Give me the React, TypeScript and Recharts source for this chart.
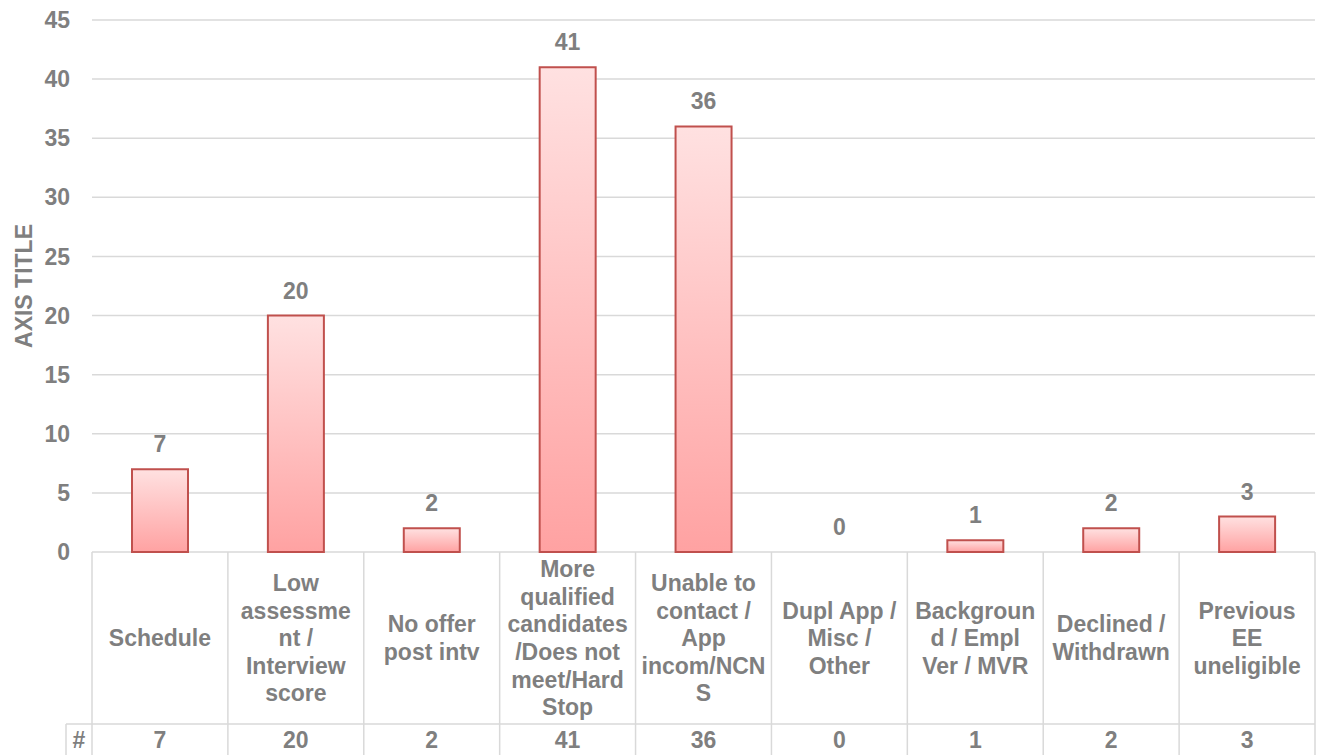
import { ComposedChart, Bar, Line, XAxis, YAxis, CartesianGrid, LabelList } from 'recharts';

// categories, wrapped the way the chart's data table wraps them
const categories = [
  'Schedule',
  'Low assessment / Interview score',
  'No offer post intv',
  'More qualified candidates /Does not meet/Hard Stop',
  'Unable to contact / App incom/NCNS',
  'Dupl App / Misc / Other',
  'Background / Empl Ver / MVR',
  'Declined / Withdrawn',
  'Previous EE uneligible',
];
const categoryLines = [
  ['Schedule'],
  ['Low', 'assessme', 'nt /', 'Interview', 'score'],
  ['No offer', 'post intv'],
  ['More', 'qualified', 'candidates', '/Does not', 'meet/Hard', 'Stop'],
  ['Unable to', 'contact /', 'App', 'incom/NCN', 'S'],
  ['Dupl App /', 'Misc /', 'Other'],
  ['Backgroun', 'd / Empl', 'Ver / MVR'],
  ['Declined /', 'Withdrawn'],
  ['Previous', 'EE', 'uneligible'],
];
const counts = [7, 20, 2, 41, 36, 0, 1, 2, 3];
const yTicks = [0, 5, 10, 15, 20, 25, 30, 35, 40, 45];
const seriesName = '#';

const data = categories.map((name, i) => ({ name, value: counts[i] }));

const W = 1317;
const H = 755;
const LEFT = 92;
const RIGHT_M = 2;
const TABLE_H = 203;
const CAT_ROW_H = 172;
const BAND = (W - LEFT - RIGHT_M) / categories.length;
const GREY = '#7f7f7f';
const LINE = '#d9d9d9';
const FONT = '"Liberation Sans", Arial, sans-serif';

// draws one column of the data table under the plot
const TableTick = ({ x, y, index }: any) => {
  const lines = categoryLines[index] || [];
  const lh = 27.6;
  const mid = y + CAT_ROW_H / 2;
  const firstBase = mid - ((lines.length - 1) * lh) / 2 + 8.2;
  const left = x - BAND / 2;
  const right = x + BAND / 2;
  const isLast = index === categories.length - 1;
  return (
    <g>
      <line x1={left} y1={y} x2={left} y2={y + TABLE_H} stroke={LINE} strokeWidth={1.5} />
      {isLast && <line x1={right} y1={y} x2={right} y2={y + TABLE_H} stroke={LINE} strokeWidth={1.5} />}
      <line x1={left} y1={y + CAT_ROW_H} x2={right} y2={y + CAT_ROW_H} stroke={LINE} strokeWidth={1.5} />
      {index === 0 && (
        <g>
          <line x1={left - 26} y1={y + CAT_ROW_H} x2={left} y2={y + CAT_ROW_H} stroke={LINE} strokeWidth={1.5} />
          <line x1={left - 26} y1={y + CAT_ROW_H} x2={left - 26} y2={y + TABLE_H} stroke={LINE} strokeWidth={1.5} />
          <text x={left - 13} y={y + CAT_ROW_H + 24} textAnchor="middle" fill={GREY} fontSize={23} fontWeight="bold" fontFamily={FONT}>
            {seriesName}
          </text>
        </g>
      )}
      <text textAnchor="middle" fill={GREY} fontSize={23} fontWeight="bold" fontFamily={FONT}>
        {lines.map((t, i) => (
          <tspan key={i} x={x} y={firstBase + i * lh}>{t}</tspan>
        ))}
      </text>
      <text x={x} y={y + CAT_ROW_H + 24} textAnchor="middle" fill={GREY} fontSize={23} fontWeight="bold" fontFamily={FONT}>
        {counts[index]}
      </text>
    </g>
  );
};

const AxisTitle = ({ viewBox }: any) => {
  const cx = 24;
  const cy = viewBox.y + viewBox.height / 2;
  return (
    <text x={cx} y={cy} transform={`rotate(-90, ${cx}, ${cy})`} textAnchor="middle" dominantBaseline="central"
      fill={GREY} fontSize={23} fontWeight="bold" fontFamily={FONT}>
      AXIS TITLE
    </text>
  );
};

export default function App() {
  return (
    <div style={{ position: 'absolute', left: 0, top: 0, width: W, height: H, background: '#fff', fontFamily: FONT }}>
      <ComposedChart width={W} height={H} data={data} margin={{ top: 20, right: RIGHT_M, bottom: 0, left: 0 }}>
        <defs>
          <linearGradient id="barFill" x1="0" y1="0" x2="0" y2="1">
            <stop offset="0%" stopColor="#ffe1e1" />
            <stop offset="100%" stopColor="#ffa2a2" />
          </linearGradient>
        </defs>
        <CartesianGrid vertical={false} stroke={LINE} strokeWidth={1.5} />
        <XAxis
          dataKey="name"
          height={TABLE_H}
          axisLine={false}
          tickLine={false}
          tickSize={0}
          tickMargin={0}
          interval={0}
          tick={<TableTick />}
        />
        <YAxis
          width={LEFT}
          domain={[0, 45]}
          ticks={yTicks}
          axisLine={false}
          tickLine={false}
          tickSize={0}
          tickMargin={22}
          tick={{ fill: GREY, fontSize: 23, fontWeight: 'bold', fontFamily: FONT }}
          label={<AxisTitle />}
        />
        <Bar dataKey="value" barSize={56} fill="url(#barFill)" stroke="#c0504d" strokeWidth={2} isAnimationActive={false} />
        {/* invisible line only carries the data labels, so the zero bar gets its "0" too */}
        <Line dataKey="value" stroke="none" dot={false} activeDot={false} legendType="none" isAnimationActive={false}>
          <LabelList dataKey="value" position="top" offset={17} fill={GREY} fontSize={23} fontWeight="bold" fontFamily={FONT} />
        </Line>
      </ComposedChart>
    </div>
  );
}
